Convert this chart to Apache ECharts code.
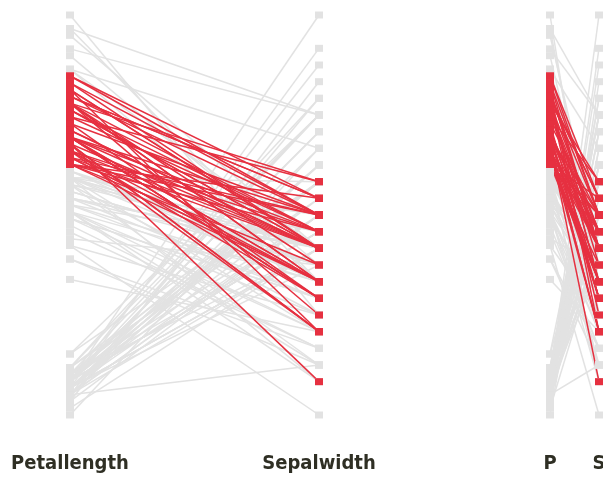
<!DOCTYPE html>
<html>
<head>
<meta charset="utf-8">
<script src="https://cdn.jsdelivr.net/npm/echarts@6/dist/echarts.min.js"></script>
<style>html,body{margin:0;padding:0;background:#fff;}#c{width:603px;height:480px;}</style>
</head>
<body>
<div id="c"></div>
<script>
// Iris dataset: petal length and sepal width for the 150 flowers
const petalLength = [
1.4,1.4,1.3,1.5,1.4,1.7,1.4,1.5,1.4,1.5,1.5,1.6,1.4,1.1,1.2,1.5,1.3,1.4,1.7,1.5,
1.7,1.5,1.0,1.7,1.9,1.6,1.6,1.5,1.4,1.6,1.6,1.5,1.5,1.4,1.5,1.2,1.3,1.5,1.3,1.5,
1.3,1.3,1.3,1.6,1.9,1.4,1.6,1.4,1.5,1.4,
4.7,4.5,4.9,4.0,4.6,4.5,4.7,3.3,4.6,3.9,3.5,4.2,4.0,4.7,3.6,4.4,4.5,4.1,4.5,3.9,
4.8,4.0,4.9,4.7,4.3,4.4,4.8,5.0,4.5,3.5,3.8,3.7,3.9,5.1,4.5,4.5,4.7,4.4,4.1,4.0,
4.4,4.6,4.0,3.3,4.2,4.2,4.2,4.3,3.0,4.1,
6.0,5.1,5.9,5.6,5.8,6.6,4.5,6.3,5.8,6.1,5.1,5.3,5.5,5.0,5.1,5.3,5.5,6.7,6.9,5.0,
5.7,4.9,6.7,4.9,5.7,6.0,4.8,4.9,5.6,5.8,6.1,6.4,5.6,5.1,5.6,6.1,5.6,5.5,4.8,5.4,
5.6,5.1,5.1,5.9,5.7,5.2,5.0,5.2,5.4,5.1
];
const sepalWidth = [
3.5,3.0,3.2,3.1,3.6,3.9,3.4,3.4,2.9,3.1,3.7,3.4,3.0,3.0,4.0,4.4,3.9,3.5,3.8,3.8,
3.4,3.7,3.6,3.3,3.4,3.0,3.4,3.5,3.4,3.2,3.1,3.4,4.1,4.2,3.1,3.2,3.5,3.1,3.0,3.4,
3.5,2.3,3.2,3.5,3.8,3.0,3.8,3.2,3.7,3.3,
3.2,3.2,3.1,2.3,2.8,2.8,3.3,2.4,2.9,2.7,2.0,3.0,2.2,2.9,2.9,3.1,3.0,2.7,2.2,2.5,
3.2,2.8,2.5,2.8,2.9,3.0,2.8,3.0,2.9,2.6,2.4,2.4,2.7,2.7,3.0,3.4,3.1,2.3,3.0,2.5,
2.6,3.0,2.6,2.3,2.7,3.0,2.9,2.9,2.5,2.8,
3.3,2.7,3.0,2.9,3.0,3.0,2.5,2.9,2.5,3.6,3.2,2.7,3.0,2.5,2.8,3.2,3.0,3.8,2.6,2.2,
3.2,2.8,2.8,2.7,3.3,3.2,2.8,3.0,2.8,3.0,2.8,3.8,2.8,2.8,2.6,3.0,3.4,3.1,3.0,3.1,
3.1,3.1,2.7,3.2,3.3,3.0,2.5,3.0,3.4,3.0
];
// axis names for the two panels
const axisNamesA = ['Petallength', 'Sepalwidth'];
const axisNamesB = ['P', 'S'];
// brushed range on petal length (selected lines shown in red)
const brushLow = 4.7;
const brushHigh = 6.0;

const RED = '#e63040';
const GRAY = '#e2e2e2';

const rows = petalLength.map((p, i) => [p, sepalWidth[i]]);
const isSel = r => r[0] >= brushLow - 1e-9 && r[0] <= brushHigh + 1e-9;
const selRows = rows.filter(isSel);
const otherRows = rows.filter(r => !isSel(r));

const plMin = Math.min(...petalLength), plMax = Math.max(...petalLength);
const swMin = Math.min(...sepalWidth), swMax = Math.max(...sepalWidth);

const panels = [
  {left: 70, width: 249, names: axisNamesA},
  {left: 550, width: 49, names: axisNamesB}
];
const TOP = 15, HEIGHT = 400;
const hiddenLabel = {show: false, formatter: () => '', color: 'rgba(0,0,0,0)'};

const parallel = [], parallelAxis = [], grid = [], xAxis = [], yAxis = [], series = [];
panels.forEach((pn, k) => {
  parallel.push({left: pn.left, top: TOP, width: pn.width, height: HEIGHT, layout: 'horizontal',
    parallelAxisDefault: {axisLabel: hiddenLabel, axisTick: {show: false}, axisLine: {show: false}}});
  [[plMin, plMax], [swMin, swMax]].forEach((mm, d) => {
    parallelAxis.push({
      dim: d, parallelIndex: k, name: pn.names[d], type: 'value', min: mm[0], max: mm[1],
      nameLocation: 'start', nameGap: 39,
      nameTextStyle: {fontFamily: 'DejaVu Sans Condensed', fontWeight: 'bold', fontSize: 20, color: '#2f2f24'},
      axisLine: {show: false}, axisTick: {show: false}, axisLabel: hiddenLabel, splitLine: {show: false},
      realtime: false
    });
  });
  series.push({type: 'parallel', parallelIndex: k, data: otherRows, silent: true,
    lineStyle: {color: GRAY, width: 1.5, opacity: 1}, z: 1, animation: false});
  series.push({type: 'parallel', parallelIndex: k, data: selRows, silent: true,
    lineStyle: {color: RED, width: 1.5, opacity: 1}, z: 2, animation: false});
  // overlay grid for the value squares on each axis
  grid.push({left: pn.left, top: TOP, width: pn.width, height: HEIGHT});
  xAxis.push({gridIndex: k, type: 'value', min: 0, max: 1, show: false});
  const yi = yAxis.length;
  yAxis.push({gridIndex: k, type: 'value', min: plMin, max: plMax, show: false});
  yAxis.push({gridIndex: k, type: 'value', min: swMin, max: swMax, show: false});
  [0, 1].forEach(d => {
    series.push({type: 'scatter', xAxisIndex: k, yAxisIndex: yi + d, symbol: 'rect', symbolSize: [8, 7],
      data: otherRows.map(r => [d, r[d]]), itemStyle: {color: GRAY, opacity: 1}, z: 3, silent: true, animation: false});
    series.push({type: 'scatter', xAxisIndex: k, yAxisIndex: yi + d, symbol: 'rect', symbolSize: [8, 7],
      data: selRows.map(r => [d, r[d]]), itemStyle: {color: RED, opacity: 1}, z: 4, silent: true, animation: false});
  });
});

const chart = echarts.init(document.getElementById('c'), null, {renderer: 'canvas'});
chart.setOption({animation: false, backgroundColor: '#fff', parallel, parallelAxis, grid, xAxis, yAxis, series});
</script>
</body>
</html>
